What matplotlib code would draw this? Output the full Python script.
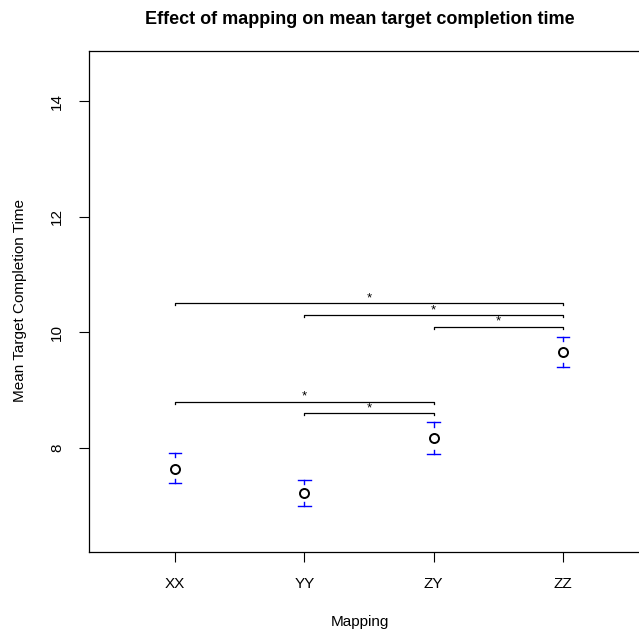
import matplotlib
matplotlib.use("Agg")
import matplotlib.pyplot as plt

plt.rcParams['font.family'] = ['Liberation Sans', 'DejaVu Sans']

# data
mappings = ["XX", "YY", "ZY", "ZZ"]
means = [7.64, 7.22, 8.17, 9.66]
upper = [7.91, 7.45, 8.44, 9.92]
lower = [7.39, 7.00, 7.90, 9.40]

# significance brackets: (from, to, height)
pair_from = ["XX", "YY", "ZY", "XX", "YY"]
pair_to = ["ZZ", "ZZ", "ZZ", "ZY", "ZY"]
pair_height = [10.5, 10.3, 10.1, 8.8, 8.6]
yticks = [8, 10, 12, 14]

fig = plt.figure(figsize=(6.39, 6.36), dpi=100)
W, H = 639, 636
ax = fig.add_axes([89 / W, 1 - 552 / H, (650 - 89) / W, (552 - 51) / H])

x = [i + 1 for i in range(len(mappings))]
pos = dict(zip(mappings, x))

# error bars with gap around point (like plotCI)
stub = 0.07
cap = 0.05
for xi, m, u, l in zip(x, means, upper, lower):
    ax.plot([xi - cap, xi + cap], [u, u], color='blue', lw=1)
    ax.plot([xi - cap, xi + cap], [l, l], color='blue', lw=1)
    ax.plot([xi, xi], [u, u - stub], color='blue', lw=1)
    ax.plot([xi, xi], [l, l + stub], color='blue', lw=1)
ax.plot(x, means, 'o', mfc='white', mec='black', mew=1.4, ms=6.5, ls='none')

tick = 0.035
for a, b, h in zip(pair_from, pair_to, pair_height):
    xa, xb = pos[a], pos[b]
    ax.plot([xa, xa, xb, xb], [h - tick, h, h, h - tick], color='black', lw=0.9)
    ax.text((xa + xb) / 2, h - 0.02, "*", ha='center', va='bottom', fontsize=9.5)

ax.set_xlim(0.335, 4.673)
ax.set_ylim(6.2, 14.865)
ax.set_xticks(x)
ax.set_xticklabels(mappings, fontsize=11)
ax.set_yticks(yticks)
ax.set_yticklabels([str(t) for t in yticks], fontsize=11, rotation=90, va='center')
ax.tick_params(axis='x', length=7, width=0.8, pad=11)
ax.tick_params(axis='y', length=7, width=0.8, pad=11)
for s in ax.spines.values():
    s.set_linewidth(0.9)

fig.text(360 / W, 1 - 19 / H, "Effect of mapping on mean target completion time",
         ha='center', va='center', fontsize=13, fontweight='bold')
fig.text(360 / W, 1 - 622 / H, "Mapping", ha='center', va='center', fontsize=11)
fig.text(20 / W, 1 - 300 / H, "Mean Target Completion Time", ha='center', va='center',
         rotation=90, fontsize=11)

fig.savefig("out.png", dpi=100)
